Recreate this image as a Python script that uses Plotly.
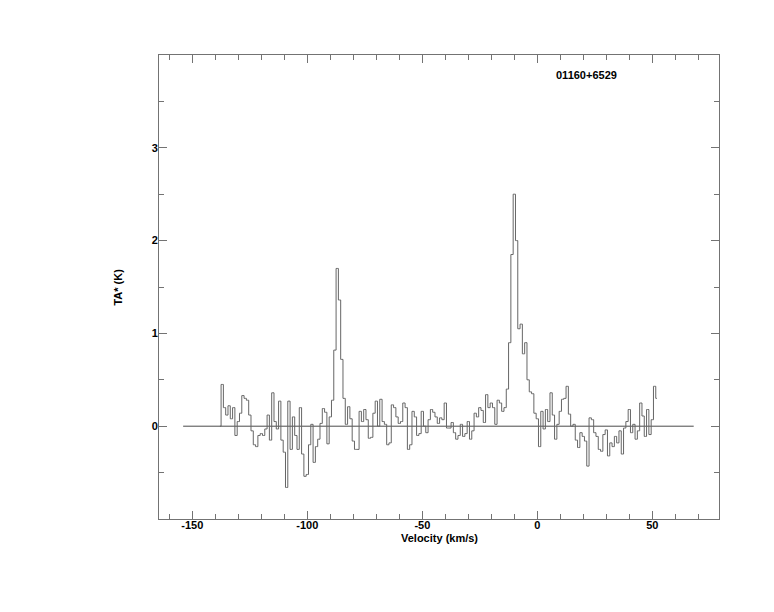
import numpy as np
import plotly.graph_objects as go

# Spectrum channels (km/s), 1 km/s grid starting at -138
v_start = -138.0
v_step = 1.0
ta_values = [
    0.0, 0.45, 0.2, 0.12, 0.22, 0.08, 0.2, -0.1, 0.05, 0.14,          # -138..-129
    0.33, 0.3, 0.28, 0.12, -0.05, -0.2, -0.22, -0.1, -0.08, -0.1,     # -128..-119
    -0.03, 0.12, -0.15, 0.36, 0.05, -0.03, 0.27, -0.15, -0.28, -0.66, # -118..-109
    0.27, -0.25, 0.1, -0.1, -0.25, 0.2, -0.3, -0.54, -0.52, -0.2,     # -108..-99
    0.02, -0.39, -0.22, -0.14, 0.03, 0.19, 0.15, -0.19, 0.1, 0.28,    # -98..-89
    0.82, 1.7, 1.36, 0.72, 0.3, 0.02, 0.21, 0.08, -0.16, -0.25,       # -88..-79
    -0.25, 0.16, 0.05, 0.18, 0.07, -0.13, -0.12, 0.14, 0.27, 0.0,     # -78..-69
    0.29, 0.05, 0.02, -0.2, -0.18, 0.23, 0.2, 0.1, 0.03, 0.05,        # -68..-59
    0.25, 0.2, -0.25, -0.2, 0.16, 0.1, -0.1, -0.08, 0.16, 0.0,        # -58..-49
    -0.07, 0.07, 0.18, 0.15, 0.1, 0.03, 0.09, 0.07, 0.25, -0.02,      # -48..-39
    -0.02, 0.04, -0.07, -0.14, -0.1, 0.02, -0.11, -0.08, 0.05, -0.14, # -38..-29
    -0.05, 0.14, 0.1, 0.2, 0.17, 0.04, 0.34, 0.2, 0.25, 0.2,          # -28..-19
    0.02, 0.28, 0.25, 0.16, 0.2, 0.4, 0.9, 1.85, 2.5, 2.0,            # -18..-9
    1.05, 1.1, 0.78, 0.9, 0.5, 0.37, 0.35, 0.14, 0.08, -0.22,         # -8..1
    0.16, -0.03, 0.18, 0.05, 0.36, 0.12, -0.14, 0.02, 0.16, 0.29,     # 2..11
    0.3, 0.43, 0.13, 0.0, 0.02, -0.15, -0.23, -0.07, -0.11, -0.16,    # 12..21
    -0.43, 0.09, 0.07, -0.07, -0.11, -0.25, -0.27, -0.09, -0.04, -0.32, # 22..31
    -0.18, -0.22, -0.11, -0.18, -0.05, -0.3, -0.02, 0.05, 0.18, -0.07,  # 32..41
    0.02, -0.14, -0.05, 0.25, 0.11, -0.11, 0.18, -0.09, 0.07, 0.43,     # 42..51
    0.3,                                                                # 52
]
velocity = v_start + v_step * np.arange(len(ta_values))

baseline_v = [-154, 68]
baseline_t = [0, 0]

x_tickvals = [-150, -100, -50, 0, 50]
x_ticktext = ["-150", "-100", "-50", "0", "50"]
y_tickvals = [0, 1, 2, 3]
y_ticktext = ["0", "1", "2", "3"]

source_name = "01160+6529"
x_label = "Velocity (km/s)"
y_label = "TA* (K)"

FONT = "Liberation Sans, Arial, Helvetica, sans-serif"
AXC = "#737373"

fig = go.Figure()
fig.add_trace(go.Scatter(x=baseline_v, y=baseline_t, mode="lines",
                         line=dict(color="#4a4a4a", width=1), hoverinfo="skip"))
fig.add_trace(go.Scatter(x=velocity, y=ta_values, mode="lines",
                         line=dict(color="#666666", width=1, shape="hvh")))

axis_common = dict(
    showgrid=False, zeroline=False, showline=True, linecolor=AXC, linewidth=1,
    mirror="allticks", ticks="inside", ticklen=8, tickwidth=1, tickcolor=AXC,
    tickfont=dict(family=FONT, size=11, color="black", weight="bold"),
)

fig.update_xaxes(range=[-164.5, 79], tickvals=x_tickvals, ticktext=x_ticktext,
                 ticklabelstandoff=-4,
                 minor=dict(dtick=10, tick0=0, ticks="inside", ticklen=5, tickcolor=AXC),
                 **axis_common)
fig.update_yaxes(range=[-1, 4], tickvals=y_tickvals, ticktext=y_ticktext, ticklabelstandoff=-2,
                 minor=dict(tickvals=[-0.5, 0.5, 1.5, 2.5, 3.5], ticks="inside", ticklen=5, tickcolor=AXC),
                 **axis_common)

fig.add_annotation(text=source_name, xref="paper", yref="paper", x=0.7625, y=0.957,
                   showarrow=False, xanchor="center", yanchor="middle",
                   font=dict(family=FONT, size=11, color="black", weight="bold"))
fig.add_annotation(text=x_label, xref="paper", yref="paper", x=0.5, y=-0.041,
                   showarrow=False, xanchor="center", yanchor="middle",
                   font=dict(family=FONT, size=11, color="black", weight="bold"))
fig.add_annotation(text=y_label, xref="paper", yref="paper", x=-0.074, y=0.5,
                   showarrow=False, xanchor="center", yanchor="middle", textangle=-90,
                   font=dict(family=FONT, size=11, color="black", weight="bold"))

fig.update_layout(
    width=766, height=604, showlegend=False,
    margin=dict(l=151, r=55, t=47, b=93, pad=0),
    paper_bgcolor="white", plot_bgcolor="white",
)

fig.write_html("out.html")
